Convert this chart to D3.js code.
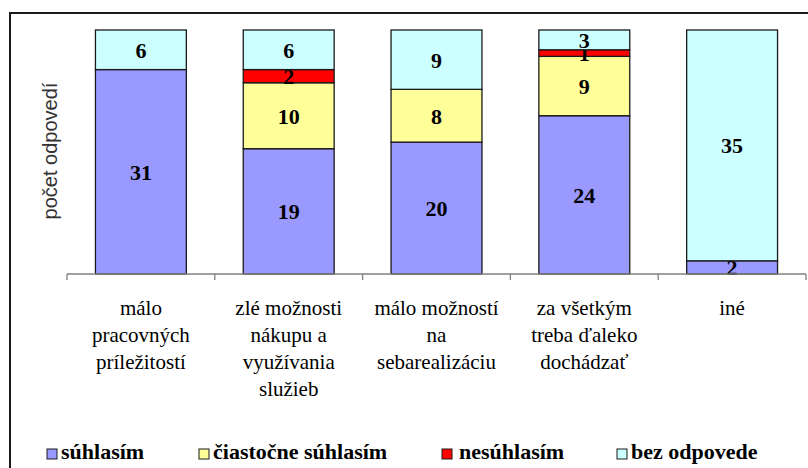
<!DOCTYPE html>
<html>
<head>
<meta charset="utf-8">
<script src="https://cdn.jsdelivr.net/npm/d3@7"></script>
<style>
  body { margin: 0; background: #fff; }
  svg { display: block; }
  .serif { font-family: "Liberation Serif", "Times New Roman", serif; }
</style>
</head>
<body>
<script>
// data
var categories = ["málo pracovných príležitostí", "zlé možnosti nákupu a využívania služieb",
  "málo možností na sebarealizáciu", "za všetkým treba ďaleko dochádzať", "iné"];
var categoryLines = [
  ["málo", "pracovných", "príležitostí"],
  ["zlé možnosti", "nákupu a", "využívania", "služieb"],
  ["málo možností", "na", "sebarealizáciu"],
  ["za všetkým", "treba ďaleko", "dochádzať"],
  ["iné"]
];
var seriesNames = ["súhlasím", "čiastočne súhlasím", "nesúhlasím", "bez odpovede"];
var suhlasim = [31, 19, 20, 24, 2];
var ciastocne = [0, 10, 8, 9, 0];
var nesuhlasim = [0, 2, 0, 1, 0];
var bezOdpovede = [6, 6, 9, 3, 35];
var colors = ["#9999FF", "#FFFF99", "#FF0000", "#CCFFFF"];
var yTitle = "počet odpovedí";

var width = 808, height = 468;

var svg = d3.select("body").append("svg")
  .attr("width", width).attr("height", height);

// outer frame, runs off the right and bottom edge
svg.append("rect")
  .attr("x", 10).attr("y", 13)
  .attr("width", 900).attr("height", 600)
  .attr("fill", "none").attr("stroke", "#1a1a1a").attr("stroke-width", 2);

var table = categories.map(function(c, i) {
  return {cat: c, "súhlasím": suhlasim[i], "čiastočne súhlasím": ciastocne[i],
    "nesúhlasím": nesuhlasim[i], "bez odpovede": bezOdpovede[i]};
});
var stack = d3.stack().keys(seriesNames)(table);

var x = d3.scaleBand().domain(categories).range([67, 806]).padding(0);
var y = d3.scaleLinear().domain([0, 37]).range([274, 30]);
var color = d3.scaleOrdinal().domain(seriesNames).range(colors);
var barW = x.bandwidth() * 0.615;

var layers = svg.selectAll(".layer").data(stack).enter()
  .append("g").attr("class", "layer")
  .attr("fill", function(d) { return color(d.key); });

layers.selectAll("rect")
  .data(function(d) { return d.filter(function(s) { return s[1] - s[0] > 0; }); })
  .enter().append("rect")
  .attr("x", function(d) { return x(d.data.cat) + (x.bandwidth() - barW) / 2; })
  .attr("y", function(d) { return y(d[1]); })
  .attr("width", barW)
  .attr("height", function(d) { return y(d[0]) - y(d[1]); })
  .attr("stroke", "#1a1a1a").attr("stroke-width", 1.3);

// x axis line + boundary ticks
var axis = svg.append("g").attr("stroke", "#808080").attr("stroke-width", 1.3);
axis.append("line")
  .attr("x1", x.range()[0]).attr("x2", x.range()[1])
  .attr("y1", y(0)).attr("y2", y(0));
var bounds = categories.map(function(c) { return x(c); }).concat([x.range()[1]]);
axis.selectAll(".tick").data(bounds).enter().append("line")
  .attr("x1", function(d) { return d; }).attr("x2", function(d) { return d; })
  .attr("y1", y(0)).attr("y2", y(0) + 6);

// value labels
layers.selectAll("text")
  .data(function(d) { return d.filter(function(s) { return s[1] - s[0] > 0; }); })
  .enter().append("text")
  .attr("class", "serif")
  .attr("x", function(d) { return x(d.data.cat) + x.bandwidth() / 2; })
  .attr("y", function(d) { return (y(d[0]) + y(d[1])) / 2; })
  .attr("dy", "0.36em")
  .attr("text-anchor", "middle")
  .attr("fill", "#000")
  .style("font-weight", "bold").style("font-size", "22px")
  .text(function(d) { return d[1] - d[0]; });

// category labels
var catG = svg.selectAll(".cat").data(categories).enter()
  .append("text").attr("class", "cat serif")
  .attr("text-anchor", "middle")
  .style("font-size", "21px").attr("fill", "#000");
catG.selectAll("tspan")
  .data(function(d, i) { return categoryLines[i].map(function(t) { return {t: t, c: d}; }); })
  .enter().append("tspan")
  .attr("x", function(d) { return x(d.c) + x.bandwidth() / 2; })
  .attr("y", function(d, j) { return 315 + j * 27; })
  .text(function(d) { return d.t; });

// y title
svg.append("text")
  .attr("transform", "translate(57," + ((y(0) + y(37)) / 2 - 1) + ") rotate(-90)")
  .attr("text-anchor", "middle")
  .style("font-family", "'Liberation Sans', Arial, sans-serif")
  .style("font-size", "20px").attr("fill", "#333")
  .text(yTitle);

// legend
var legendX = [47, 199, 442, 617];
var leg = svg.selectAll(".leg").data(seriesNames).enter()
  .append("g").attr("class", "leg")
  .attr("transform", function(d, i) { return "translate(" + legendX[i] + ",449)"; });
leg.append("rect")
  .attr("width", 10).attr("height", 10)
  .attr("fill", function(d) { return color(d); })
  .attr("stroke", "#1a1a1a").attr("stroke-width", 1);
leg.append("text")
  .attr("class", "serif")
  .attr("x", function(d, i) { return i == 2 ? 17 : 14; }).attr("y", 10)
  .style("font-weight", "bold").style("font-size", "22px")
  .text(function(d) { return d; });
</script>
</body>
</html>
